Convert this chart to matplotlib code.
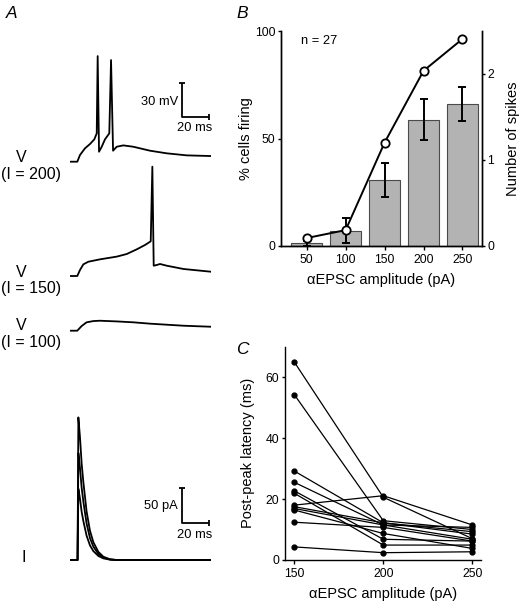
import matplotlib
matplotlib.use("Agg")
import matplotlib.pyplot as plt
import numpy as np

plt.rcParams['font.family'] = ['Liberation Sans', 'DejaVu Sans']

W, H = 523, 606

# ---------------- Panel B data ----------------
amplitudes_b = [50, 100, 150, 200, 250]
pct_firing = [3.7, 7.4, 48.1, 81.5, 96.3]
n_spikes = [0.03, 0.18, 0.77, 1.47, 1.65]
n_spikes_err = [0.03, 0.15, 0.20, 0.24, 0.20]

# ---------------- Panel C data ----------------
amplitudes_c = [150, 200, 250]
latency_cells = [
    [65.0, 20.6, 7.0],
    [54.3, 12.9, 10.0],
    [29.2, 12.2, 9.3],
    [25.5, 11.5, 10.7],
    [22.7, 6.8, 6.2],
    [21.9, 4.9, 4.9],
    [18.0, 21.1, 11.5],
    [17.5, 12.2, 8.5],
    [16.9, 11.5, 6.8],
    [16.4, 8.7, 3.8],
    [12.4, 10.7, 6.2],
    [4.3, 2.4, 2.7],
]

# ---------------- Panel A traces (time ms, value) ----------------
v200_t = [0, 5.4, 7.4, 11.1, 14.8, 18.0, 19.8, 20.5, 21.5, 23.5, 25.9, 29.1, 30.4, 31.9,
          34.6, 39.5, 46.9, 59.3, 71.6, 86.4, 104.2]
v200_v = [0, 0, 5.9, 11.8, 15.6, 19.7, 25.0, 93.2, 8.8, 13.2, 19.7, 25.0, 89.7, 9.7,
          13.2, 14.4, 13.2, 9.7, 7.4, 5.6, 5.0]

v150_t = [0, 5.4, 7.4, 9.9, 13.6, 22.2, 34.6, 42.0, 49.4, 55.6, 59.8, 61.0, 62.0, 64.2,
          66.7, 71.6, 84.0, 104.2]
v150_v = [0, 0, 5.3, 10.3, 12.6, 14.7, 17.1, 19.4, 23.5, 27.4, 30.6, 96.5, 9.1, 9.7,
          10.6, 9.1, 6.2, 3.8]

v100_t = [0, 5.4, 8.6, 12.3, 17.3, 22.2, 34.6, 46.9, 59.3, 71.6, 84.0, 104.2]
v100_v = [0, 0, 4.1, 7.4, 8.5, 8.8, 8.2, 7.4, 6.2, 5.3, 4.4, 3.5]

epsc_t = [0, 5.6, 6.2, 7.4, 8.6, 9.9, 12.3, 14.8, 17.3, 21.0, 24.7, 29.6, 34.6, 104.2]
epsc_shape = [0, 0, 1.0, 0.86, 0.68, 0.545, 0.34, 0.205, 0.125, 0.057, 0.023, 0.005, 0, 0]
epsc_peaks = [100, 150, 200]


def fx(px):
    return px / W


def fy(py):
    return 1 - py / H


fig = plt.figure(figsize=(W / 100, H / 100), dpi=100)


def trace_ax(base_py, px_per_unit, lo, hi, x0_px=70, t_end=104.2, px_per_ms=1.35):
    top_py = base_py - hi * px_per_unit
    bot_py = base_py - lo * px_per_unit
    ax = fig.add_axes([fx(x0_px), fy(bot_py), fx(t_end * px_per_ms),
                       (bot_py - top_py) / H])
    ax.set_xlim(0, t_end)
    ax.set_ylim(lo, hi)
    ax.axis('off')
    return ax


lw_tr = 1.3
txt_fs = 11.5
sb_fs = 9.3

# V (I = 200)
a1 = trace_ax(161.7, 1.133, -15, 100)
a1.plot(v200_t, v200_v, color='black', lw=lw_tr)
a1.plot([83.2, 83.2, 103.2], [69.2, 39.2, 39.2], color='black', lw=1.3,
        solid_capstyle='butt')
a1.plot([83.2], [69.2], marker='_', ms=5, mew=1.3, color='black')
a1.plot([103.2], [39.2], marker='|', ms=5, mew=1.3, color='black')
a1.text(80, 53, '30 mV', ha='right', va='center', fontsize=sb_fs)
a1.text(92.4, 29.5, '20 ms', ha='center', va='center', fontsize=sb_fs)

# V (I = 150)
a2 = trace_ax(276, 1.133, -15, 100)
a2.plot(v150_t, v150_v, color='black', lw=lw_tr)

# V (I = 100)
a3 = trace_ax(330.7, 1.133, -10, 20)
a3.plot(v100_t, v100_v, color='black', lw=lw_tr)

# I
a4 = trace_ax(560, 0.713, -20, 215)
for pk in epsc_peaks:
    a4.plot(epsc_t, [s * pk for s in epsc_shape], color='black', lw=lw_tr)
a4.plot([83.2, 83.2, 103.2], [101.5, 51.5, 51.5], color='black', lw=1.3,
        solid_capstyle='butt')
a4.plot([83.2], [101.5], marker='_', ms=5, mew=1.3, color='black')
a4.plot([103.2], [51.5], marker='|', ms=5, mew=1.3, color='black')
a4.text(80, 75.7, '50 pA', ha='right', va='center', fontsize=sb_fs)
a4.text(92.4, 35, '20 ms', ha='center', va='center', fontsize=sb_fs)

# Trace labels
fig.text(fx(21.7), fy(157), 'V', ha='center', va='center', fontsize=txt_fs)
fig.text(fx(31), fy(175), '(I = 200)', ha='center', va='center', fontsize=txt_fs)
fig.text(fx(21.7), fy(272.5), 'V', ha='center', va='center', fontsize=txt_fs)
fig.text(fx(31), fy(288), '(I = 150)', ha='center', va='center', fontsize=txt_fs)
fig.text(fx(21.7), fy(325.5), 'V', ha='center', va='center', fontsize=txt_fs)
fig.text(fx(31), fy(342.5), '(I = 100)', ha='center', va='center', fontsize=txt_fs)
fig.text(fx(23.3), fy(558), 'I', ha='center', va='center', fontsize=txt_fs)

# Panel letters
fig.text(fx(12), fy(13), 'A', ha='center', va='center', fontsize=12.5, style='italic')
fig.text(fx(242), fy(13), 'B', ha='center', va='center', fontsize=12.5, style='italic')
fig.text(fx(242), fy(349), 'C', ha='center', va='center', fontsize=12.5, style='italic')

tick_fs = 8.8
lab_fs = 10.5


def style_ticks(a):
    a.tick_params(axis='both', labelsize=tick_fs, direction='out', width=1)
    a.tick_params(axis='y', length=2.5, pad=1.5)
    a.tick_params(axis='x', length=3, pad=3)
    for s in a.spines.values():
        s.set_linewidth(1)


# ---------------- Panel B ----------------
axB = fig.add_axes([fx(281), fy(246), fx(481.5 - 281), (246 - 31) / H])
axB2 = axB.twinx()
axB2.bar(amplitudes_b, n_spikes, width=40.4, color='#b3b3b3', edgecolor='#4a4a4a',
         linewidth=0.8, zorder=1)
axB2.errorbar(amplitudes_b, n_spikes, yerr=n_spikes_err, fmt='none', ecolor='black',
              elinewidth=1.4, capsize=3, capthick=1.4, zorder=2)
axB2.set_ylim(0, 2.5)
axB2.set_yticks([0, 1, 2])
axB.plot(amplitudes_b, pct_firing, color='black', lw=1.4, marker='o', ms=6,
         mfc='white', mec='black', mew=1.3, zorder=3, clip_on=False)
axB.set_ylim(0, 100)
axB.set_yticks([0, 50, 100])
axB.set_xlim(17, 274.4)
axB.set_xticks(amplitudes_b)
axB.set_zorder(axB2.get_zorder() + 1)
axB.patch.set_visible(False)
for a in (axB, axB2):
    a.spines['top'].set_visible(False)
    style_ticks(a)
axB.set_ylabel('% cells firing', fontsize=lab_fs, labelpad=1.5)
axB2.set_ylabel('Number of spikes', fontsize=lab_fs, labelpad=8.5)
axB.set_xlabel('\u03b1EPSC amplitude (pA)', fontsize=lab_fs, labelpad=5)
axB.text(0.1, 0.955, 'n = 27', transform=axB.transAxes, ha='left', va='center',
         fontsize=9.3)

# ---------------- Panel C ----------------
axC = fig.add_axes([fx(285), fy(560), fx(480.7 - 285), (560 - 346.7) / H])
for cell in latency_cells:
    axC.plot(amplitudes_c, cell, color='black', lw=0.9, marker='o', ms=3.5,
             clip_on=False)
axC.set_xlim(144.8, 254.7)
axC.set_ylim(0, 70)
axC.set_xticks(amplitudes_c)
axC.set_yticks([0, 20, 40, 60])
axC.spines['top'].set_visible(False)
axC.spines['right'].set_visible(False)
style_ticks(axC)
axC.set_ylabel('Post-peak latency (ms)', fontsize=lab_fs, labelpad=8)
axC.set_xlabel('\u03b1EPSC amplitude (pA)', fontsize=lab_fs, labelpad=5)

fig.savefig('out.png', dpi=100)
